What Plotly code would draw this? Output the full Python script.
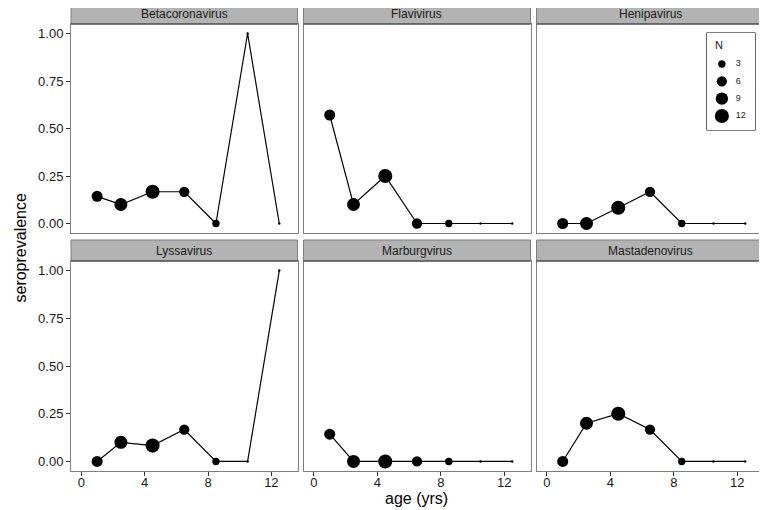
import numpy as np
import plotly.graph_objects as go

# ---------------- data ----------------
ages = [1, 2.5, 4.5, 6.5, 8.5, 10.5, 12.5]
n_per_age = [7, 10, 12, 6, 3, 1, 1]

viruses = ["Betacoronavirus", "Flavivirus", "Henipavirus",
           "Lyssavirus", "Marburgvirus", "Mastadenovirus"]
betacoronavirus = [0.143, 0.100, 0.167, 0.167, 0.0, 1.0, 0.0]
flavivirus = [0.571, 0.100, 0.250, 0.0, 0.0, 0.0, 0.0]
henipavirus = [0.0, 0.0, 0.083, 0.167, 0.0, 0.0, 0.0]
lyssavirus = [0.0, 0.100, 0.083, 0.167, 0.0, 0.0, 1.0]
marburgvirus = [0.143, 0.0, 0.0, 0.0, 0.0, 0.0, 0.0]
mastadenovirus = [0.0, 0.200, 0.250, 0.167, 0.0, 0.0, 0.0]
series = [betacoronavirus, flavivirus, henipavirus,
          lyssavirus, marburgvirus, mastadenovirus]

legend_n = [3, 6, 9, 12]
x_ticks = [0, 4, 8, 12]
y_ticks = [0, 0.25, 0.5, 0.75, 1.0]
y_ticktext = ["0.00", "0.25", "0.50", "0.75", "1.00"]

# ---------------- layout helpers ----------------
W, H = 767, 510
OFF = 8                      # page body margin of the browser
FW, FH = W - OFF, H - OFF    # figure size so it fits the window
FONT = "Liberation Sans, Arial, sans-serif"
n_min, n_max = 1, 12


def size_of(n):
    # ggplot-like area scale, range 1..6
    return 2.35 * (1 + 5 * np.sqrt((n - n_min) / (n_max - n_min)))


def px_x(v):
    return (v - OFF) / FW


def px_y(v):
    return 1 - (v - OFF) / FH


cols = [(71, 297.5), (303.5, 530.5), (536.5, 763.5)]
rows = [(24, 233), (261, 471)]          # plot area (top, bottom) in px
strips = [(4.7, 24), (240, 261)]

fig = go.Figure()
shapes = []
annotations = []
layout_axes = {}

for i, (name, vals) in enumerate(zip(viruses, series)):
    r, c = divmod(i, 3)
    k = i + 1
    xa = "x" if k == 1 else f"x{k}"
    ya = "y" if k == 1 else f"y{k}"
    fig.add_trace(go.Scatter(
        x=ages, y=vals, mode="lines+markers",
        line=dict(color="black", width=1.2),
        marker=dict(color="black", opacity=1,
                    size=[size_of(n) for n in n_per_age], line=dict(width=0)),
        xaxis=xa, yaxis=ya, showlegend=False, hoverinfo="skip"))
    x0, x1 = cols[c]
    t, b = rows[r]
    bottom = r == 1
    left = c == 0
    layout_axes[("xaxis" if k == 1 else f"xaxis{k}")] = dict(
        domain=[px_x(x0), px_x(x1)], anchor=ya,
        range=[-0.65, 13.65], tickvals=x_ticks,
        showticklabels=bottom, ticks="outside" if bottom else "",
        ticklen=4, tickwidth=1, tickcolor="#333333", ticklabelstandoff=-5,
        tickfont=dict(family=FONT, size=13, color="#1a1a1a"),
        showgrid=False, zeroline=False, showline=True, mirror=True,
        linecolor="#7f7f7f", linewidth=1)
    layout_axes[("yaxis" if k == 1 else f"yaxis{k}")] = dict(
        domain=[px_y(b), px_y(t)], anchor=xa,
        range=[-0.05, 1.05], tickvals=y_ticks, ticktext=y_ticktext,
        showticklabels=left, ticks="outside" if left else "",
        ticklen=4, tickwidth=1, tickcolor="#333333",
        tickfont=dict(family=FONT, size=13, color="#1a1a1a"),
        showgrid=False, zeroline=False, showline=True, mirror=True,
        linecolor="#7f7f7f", linewidth=1)
    st, sb = strips[r]
    shapes.append(dict(type="rect", xref="paper", yref="paper",
                       x0=px_x(x0), x1=px_x(x1), y0=px_y(sb), y1=px_y(st),
                       fillcolor="#b3b3b3", line=dict(color="#7f7f7f", width=1),
                       layer="above"))
    shapes.append(dict(type="line", xref="paper", yref="paper",
                       x0=px_x(x0), x1=px_x(x1), y0=px_y(sb), y1=px_y(sb),
                       line=dict(color="#333333", width=1.2), layer="above"))
    annotations.append(dict(text=name, xref="paper", yref="paper",
                            x=px_x((x0 + x1) / 2), y=px_y((st + sb) / 2),
                            showarrow=False, xanchor="center", yanchor="middle",
                            font=dict(family=FONT, size=12, color="#1a1a1a")))

# ---------------- size legend ----------------
lg_x0, lg_x1, lg_t, lg_b = 707, 755, 33, 130
fig.add_trace(go.Scatter(
    x=[0.31] * len(legend_n), y=list(range(len(legend_n))), mode="markers",
    marker=dict(color="black", opacity=1,
                size=[size_of(n) for n in legend_n], line=dict(width=0)),
    xaxis="x7", yaxis="y7", showlegend=False, hoverinfo="skip"))
fig.add_trace(go.Scatter(
    x=[0.6] * len(legend_n), y=list(range(len(legend_n))), mode="text",
    text=[str(n) for n in legend_n], textposition="middle right",
    textfont=dict(family=FONT, size=9, color="#1a1a1a"),
    xaxis="x7", yaxis="y7", showlegend=False, hoverinfo="skip"))
layout_axes["xaxis7"] = dict(domain=[px_x(lg_x0), px_x(lg_x1)], anchor="y7",
                             range=[0, 1], visible=False, fixedrange=True)
layout_axes["yaxis7"] = dict(domain=[px_y(lg_b), px_y(lg_t)], anchor="x7",
                             range=[3.81, -1.79], visible=False, fixedrange=True)
shapes.append(dict(type="rect", xref="paper", yref="paper",
                   x0=px_x(lg_x0), x1=px_x(lg_x1), y0=px_y(lg_b), y1=px_y(lg_t),
                   line=dict(color="black", width=1.2), fillcolor="rgba(0,0,0,0)",
                   layer="below"))
annotations.append(dict(text="N", xref="paper", yref="paper",
                        x=px_x(713), y=px_y(45), showarrow=False,
                        xanchor="left", yanchor="middle",
                        font=dict(family=FONT, size=11, color="#1a1a1a")))

# ---------------- axis titles ----------------
annotations.append(dict(text="seroprevalence", xref="paper", yref="paper",
                        x=px_x(20), y=px_y(247.5), showarrow=False, textangle=-90,
                        xanchor="center", yanchor="middle",
                        font=dict(family=FONT, size=16, color="black")))
annotations.append(dict(text="age (yrs)", xref="paper", yref="paper",
                        x=px_x(417), y=px_y(498), showarrow=False,
                        xanchor="center", yanchor="middle",
                        font=dict(family=FONT, size=16, color="black")))

fig.update_layout(
    width=FW, height=FH, margin=dict(l=0, r=0, t=0, b=0),
    paper_bgcolor="white", plot_bgcolor="white",
    shapes=shapes, annotations=annotations, showlegend=False,
    **layout_axes)

fig.write_html("out.html")
